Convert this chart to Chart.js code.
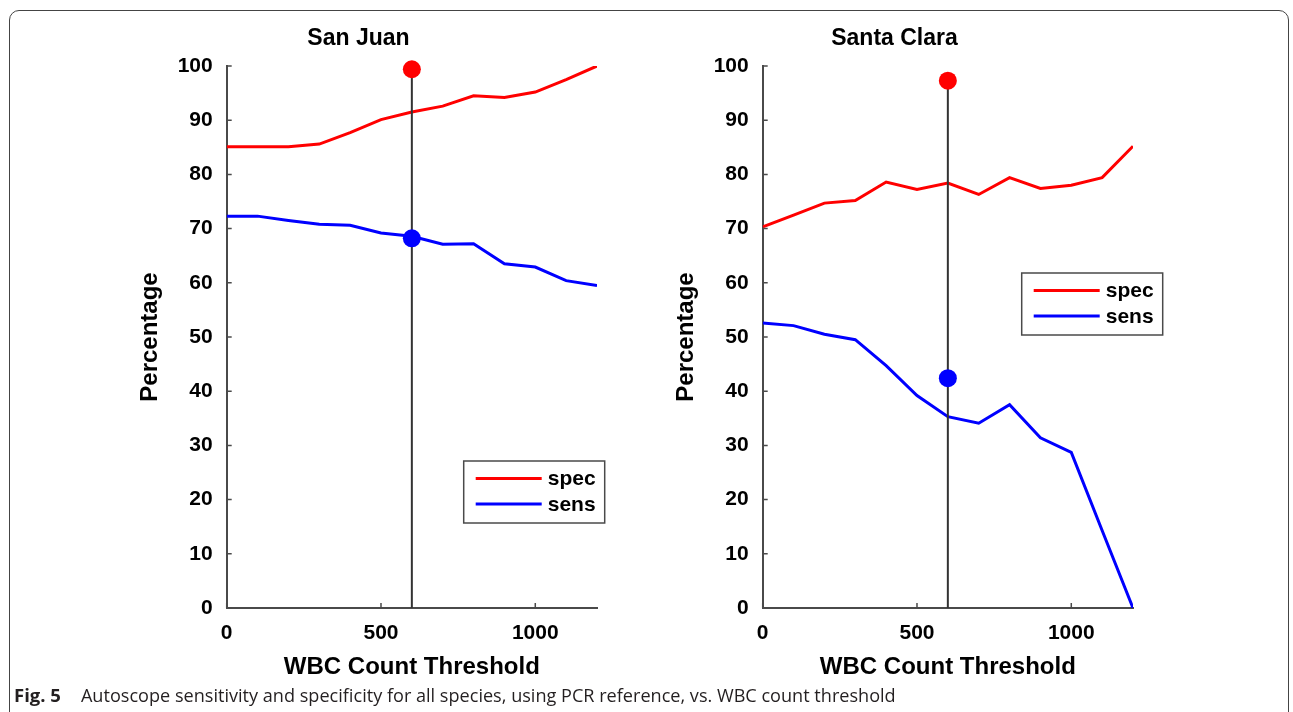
<!DOCTYPE html>
<html>
<head>
<meta charset="utf-8">
<script src="https://cdn.jsdelivr.net/npm/chart.js@4.4.1/dist/chart.umd.min.js"></script>
<style>
  html, body { margin: 0; padding: 0; background: #fff; overflow: hidden; }
  body { width: 1293px; height: 712px; position: relative; }
  .frame {
    position: absolute; left: 9px; top: 10px; width: 1280px; height: 760px;
    border: 1.5px solid #444; border-radius: 10px; box-sizing: border-box;
  }
  .plot { position: absolute; top: 0; width: 660px; height: 690px; }
  #sanJuan { left: 0; }
  #santaClara { left: 536px; }
  .caption {
    position: absolute; left: 14px; top: 682px; white-space: nowrap; line-height: 25px;
    font-family: "Open Sans", "Noto Sans", sans-serif; font-size: 18.1px; color: #231f20;
  }
  .caption b { font-weight: 700; font-size: 18.5px; margin-right: 20px; }
</style>
</head>
<body>
<div class="frame"></div>
<div class="plot" id="sanJuan"><canvas id="sjChart" width="660" height="690"></canvas></div>
<div class="plot" id="santaClara"><canvas id="scChart" width="660" height="690"></canvas></div>
<div class="caption"><b>Fig. 5</b>Autoscope sensitivity and specificity for all species, using PCR reference, vs. WBC count threshold</div>

<script>
// WBC count thresholds (x)
const thresholds = [0, 100, 200, 300, 400, 500, 600, 700, 800, 900, 1000, 1100, 1200];

// San Juan
const sjSpec = [85.1, 85.1, 85.1, 85.6, 87.7, 90.1, 91.5, 92.6, 94.5, 94.2, 95.2, 97.5, 100];
const sjSens = [72.3, 72.3, 71.5, 70.8, 70.6, 69.2, 68.6, 67.1, 67.2, 63.5, 62.9, 60.4, 59.5];
const sjCut = 600;
const sjCutSpec = 99.4;
const sjCutSens = 68.2;

// Santa Clara
const scSpec = [70.3, 72.5, 74.7, 75.2, 78.6, 77.2, 78.4, 76.3, 79.4, 77.4, 78.0, 79.4, 85.2];
const scSens = [52.6, 52.1, 50.5, 49.5, 44.7, 39.2, 35.3, 34.1, 37.5, 31.4, 28.7, 14.3, 0];
const scCut = 600;
const scCutSpec = 97.3;
const scCutSens = 42.4;

const xTicks = [0, 500, 1000];
const yTicks = [0, 10, 20, 30, 40, 50, 60, 70, 80, 90, 100];

const RED = '#ff0000';
const BLUE = '#0000ff';
const AXIS = '#4a4a4a';
const FONT = "'Liberation Sans', Arial, Helvetica, sans-serif";

const pts = (xs, ys) => xs.map((x, i) => ({ x: x, y: ys[i] }));

// short tick marks pointing into the plot, like the original figure
const innerTicks = {
    id: 'innerTicks',
    afterDraw(chart) {
        const { ctx, chartArea } = chart;
        const xs = chart.scales.x, ys = chart.scales.y;
        ctx.save();
        ctx.strokeStyle = AXIS;
        ctx.lineWidth = 1.5;
        ctx.beginPath();
        xs.ticks.forEach(t => {
            const px = xs.getPixelForValue(t.value);
            ctx.moveTo(px, chartArea.bottom);
            ctx.lineTo(px, chartArea.bottom - 5);
        });
        ys.ticks.forEach(t => {
            const py = ys.getPixelForValue(t.value);
            ctx.moveTo(chartArea.left, py);
            ctx.lineTo(chartArea.left + 5, py);
        });
        ctx.stroke();
        ctx.restore();
    }
};

// boxed legend placed inside the axes
const boxLegend = {
    id: 'boxLegend',
    afterDraw(chart, args, opts) {
        const { ctx, chartArea } = chart;
        const items = chart.data.datasets.filter(d => d.inLegend);
        const left = chartArea.left + opts.dx;
        const top = chartArea.top + opts.dy;
        const w = 141, h = 62;
        ctx.save();
        ctx.fillStyle = '#fff';
        ctx.fillRect(left, top, w, h);
        ctx.strokeStyle = AXIS;
        ctx.lineWidth = 1.5;
        ctx.strokeRect(left, top, w, h);
        ctx.font = 'bold 21px ' + FONT;
        ctx.textBaseline = 'middle';
        items.forEach((d, i) => {
            const y = top + 17.5 + i * 25.5;
            ctx.strokeStyle = d.borderColor;
            ctx.lineWidth = 3;
            ctx.beginPath();
            ctx.moveTo(left + 12, y);
            ctx.lineTo(left + 78, y);
            ctx.stroke();
            ctx.fillStyle = '#000';
            ctx.fillText(d.label, left + 84, y + 1);
        });
        ctx.restore();
    }
};

function makeChart(canvasId, title, spec, sens, cut, cutSpec, cutSens, legendPos) {
    const ctx = document.getElementById(canvasId).getContext('2d');
    return new Chart(ctx, {
        type: 'scatter',
        data: {
            datasets: [
                { label: 'cutSpec', data: [{ x: cut, y: cutSpec }], pointRadius: 9, pointBorderWidth: 0,
                  backgroundColor: RED, borderColor: RED, order: 0, clip: false },
                { label: 'cutSens', data: [{ x: cut, y: cutSens }], pointRadius: 9, pointBorderWidth: 0,
                  backgroundColor: BLUE, borderColor: BLUE, order: 0, clip: false },
                { label: 'cut', data: [{ x: cut, y: 0 }, { x: cut, y: cutSpec }], showLine: true,
                  pointRadius: 0, borderColor: '#333', borderWidth: 2, order: 1 },
                { label: 'spec', inLegend: true, data: pts(thresholds, spec), showLine: true,
                  pointRadius: 0, borderColor: RED, borderWidth: 3, order: 2 },
                { label: 'sens', inLegend: true, data: pts(thresholds, sens), showLine: true,
                  pointRadius: 0, borderColor: BLUE, borderWidth: 3, order: 2 }
            ]
        },
        options: {
            responsive: false,
            animation: false,
            events: [],
            layout: { padding: { left: 120, right: 63, top: 0, bottom: 0 } },
            plugins: {
                legend: { display: false },
                tooltip: { enabled: false },
                title: {
                    display: true, text: title, color: '#000',
                    font: { family: FONT, size: 23, weight: 'bold' },
                    padding: { top: 24.5, bottom: 13.9 }
                },
                boxLegend: legendPos
            },
            scales: {
                x: {
                    type: 'linear', min: 0, max: 1200,
                    afterBuildTicks: s => { s.ticks = xTicks.map(v => ({ value: v })); },
                    afterFit: s => { s.height = 82; },
                    grid: { display: false, drawTicks: false },
                    border: { display: true, color: AXIS, width: 2 },
                    ticks: { color: '#000', padding: 13, maxRotation: 0, callback: v => String(v),
                             font: { family: FONT, size: 21, weight: 'bold' } },
                    title: {
                        display: true, text: 'WBC Count Threshold', color: '#000',
                        font: { family: FONT, size: 24, weight: 'bold' },
                        padding: { top: 0, bottom: 8 }
                    }
                },
                y: {
                    type: 'linear', min: 0, max: 100,
                    afterBuildTicks: s => { s.ticks = yTicks.map(v => ({ value: v })); },
                    afterFit: s => { s.width = 106.7; },
                    grid: { display: false, drawTicks: false },
                    border: { display: true, color: AXIS, width: 2 },
                    ticks: { color: '#000', padding: 14, callback: v => String(v),
                             font: { family: FONT, size: 21, weight: 'bold' } },
                    title: {
                        display: true, text: 'Percentage', color: '#000',
                        font: { family: FONT, size: 24, weight: 'bold' },
                        padding: { top: 16, bottom: 0 }
                    }
                }
            }
        },
        plugins: [innerTicks, boxLegend]
    });
}

makeChart('sjChart', 'San Juan', sjSpec, sjSens, sjCut, sjCutSpec, sjCutSens, { dx: 237, dy: 395 });
makeChart('scChart', 'Santa Clara', scSpec, scSens, scCut, scCutSpec, scCutSens, { dx: 259, dy: 207 });
</script>
</body>
</html>
